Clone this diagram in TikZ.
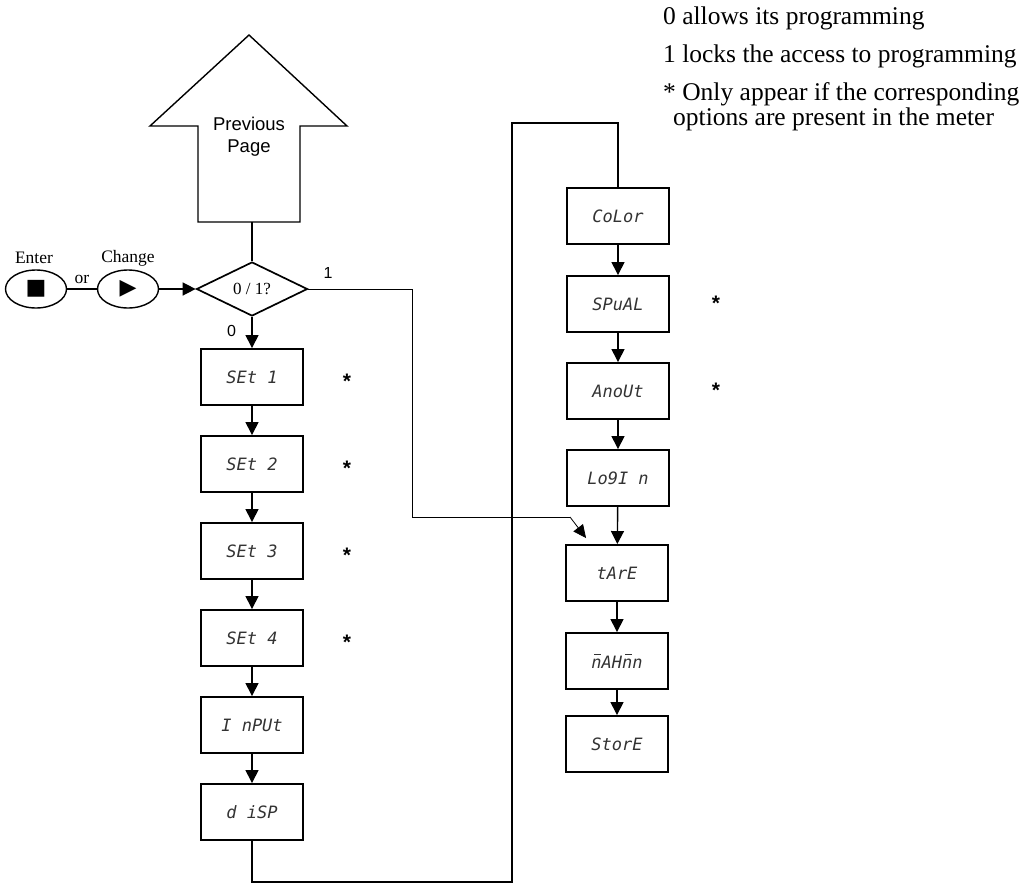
\documentclass[tikz,border=0pt]{standalone}
\usepackage{fontspec}
\usepackage{tikz}
\usetikzlibrary{arrows.meta,shapes.geometric}
\setmainfont{Liberation Serif}
\newfontfamily\labelfont{Liberation Sans}
\newfontfamily\segfont{DejaVu Sans Mono}
\newfontfamily\symfont{DejaVu Sans}
\newcommand\segbarn{\rlap{\hspace{0.17em}\rule[0.76em]{0.42em}{0.07em}}n}

\begin{document}
\begin{tikzpicture}[x=1pt,y=1pt,yscale=-1,
	menubox/.style={draw,line width=1.9pt,minimum width=102pt,minimum height=56pt,inner sep=0pt,font=\segfont\itshape\fontsize{17}{17}\selectfont,text=black!80},
	keybtn/.style={draw,ellipse,line width=1.4pt,minimum width=61pt,minimum height=38pt,inner sep=0pt,font=\symfont\fontsize{22}{22}\selectfont},
	asknode/.style={draw,diamond,line width=1.7pt,minimum width=111pt,minimum height=54pt,inner sep=0pt,aspect=2,font=\fontsize{17}{17}\selectfont},
	flow/.style={line width=1.4pt,-{Triangle[length=13pt,width=13pt]}},
	optmark/.style={font=\labelfont\bfseries\fontsize{21}{21}\selectfont},
	note/.style={anchor=base west,inner sep=0pt,font=\fontsize{25.5}{25.5}\selectfont}]
			\useasboundingbox (0,0) rectangle (1027,883);

			\draw[line width=1.4pt] (249,35) -- (347,126) -- (300,126) -- (300,222) -- (198,222) -- (198,126) -- (150,126) -- cycle;
			\node[align=center,font=\labelfont\fontsize{18.5}{22}\selectfont] (prev) at (249,137) {Previous\\Page};
			\coordinate (prevbase) at (252,222);

			\node[keybtn] (enter) at (36,289) {■};
			\node[keybtn] (change) at (128,289) {▶};
			\node[font=\fontsize{17.5}{17.5}\selectfont] (entertxt) at (34,258) {Enter};
			\node[font=\fontsize{17.5}{17.5}\selectfont] (changetxt) at (128,258) {Change};
			\node[asknode] (ask) at (252,289) {0 / 1?};

			\node[menubox] (set1) at (252,377) {SEt 1};
			\node[menubox] (set2) at (252,464) {SEt 2};
			\node[menubox] (set3) at (252,551) {SEt 3};
			\node[menubox] (set4) at (252,638) {SEt 4};
			\node[menubox] (input) at (252,725) {I nPUt};
			\node[menubox] (disp) at (252,812) {d iSP};

			\node[menubox] (color) at (618,216) {CoLor};
			\node[menubox] (spual) at (618,304) {SPuAL};
			\node[menubox] (anout) at (618,391) {AnoUt};
			\node[menubox] (login) at (618,478) {Lo9I n};
			\node[menubox] (tare) at (617,573) {tArE};
			\node[menubox] (maxmin) at (617,661) {\segbarn AH\segbarn n};
			\node[menubox] (store) at (617,744) {StorE};

			\node[optmark] (mk1) at (347,381) {*};
			\node[optmark] (mk2) at (347,468) {*};
			\node[optmark] (mk3) at (347,555) {*};
			\node[optmark] (mk4) at (347,642) {*};
			\node[optmark] (mk5) at (716,303) {*};
			\node[optmark] (mk6) at (716,390) {*};

			\node[note] (note0) at (663,25) {0 allows its programming};
			\node[note] (note1) at (663,63) {1 locks the access to programming};
			\node[note] (note2) at (663,100) {* Only appear if the corresponding};
			\node[note] (note3) at (673,125) {options are present in the meter};

			\coordinate (lockturn) at (412,517);
			\coordinate (lockend) at (570,517);
			\coordinate (loopbr) at (512,882);
			\coordinate (looptr) at (512,123);

			\draw[line width=1.4pt] (enter) -- (change) node[midway,above=1pt,font=\fontsize{17.5}{17.5}\selectfont] {or};
			\draw[flow] (change) -- (ask);
			\draw[line width=1.4pt] (prevbase) -- (ask.north);
			\draw[flow] (ask.south) -- (set1) node[pos=0.45,left=12pt,font=\labelfont\fontsize{16}{16}\selectfont] {0};
			\draw[flow] (set1) -- (set2);
			\draw[flow] (set2) -- (set3);
			\draw[flow] (set3) -- (set4);
			\draw[flow] (set4) -- (input);
			\draw[flow] (input) -- (disp);
			\draw[line width=1.4pt] (disp.south) |- (loopbr) -- (looptr) -| (color.north);
			\draw[flow] (color) -- (spual);
			\draw[flow] (spual) -- (anout);
			\draw[flow] (anout) -- (login);
			\draw[flow] (login) -- (tare);
			\draw[flow] (tare) -- (maxmin);
			\draw[flow] (maxmin) -- (store);
			\draw[line width=0.8pt] (ask.east) -| (lockturn) -- (lockend);
			\draw[line width=0.8pt,-{Triangle[length=13pt,width=12pt]}] (lockend) -- ([xshift=21pt,yshift=-6pt]tare.north west);
			\node[font=\labelfont\fontsize{16}{16}\selectfont] (one) at (328,273) {1};
\end{tikzpicture}
\end{document}
